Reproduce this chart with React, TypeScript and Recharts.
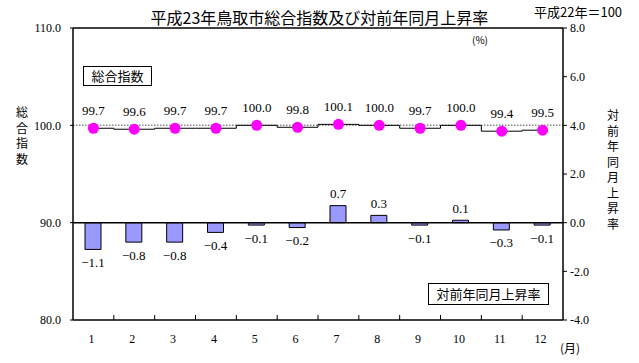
import React from 'react';
import { ComposedChart, Bar, Line, XAxis, YAxis, ReferenceLine, LabelList } from 'recharts';

const months = ['1', '2', '3', '4', '5', '6', '7', '8', '9', '10', '11', '12'];
const indexValues = [99.7, 99.6, 99.7, 99.7, 100.0, 99.8, 100.1, 100.0, 99.7, 100.0, 99.4, 99.5];
const rateValues = [-1.1, -0.8, -0.8, -0.4, -0.1, -0.2, 0.7, 0.3, -0.1, 0.1, -0.3, -0.1];
const leftTicks = [80, 90, 100, 110];
const rightTicks = [-4, -2, 0, 2, 4, 6, 8];

const data = months.map((m, i) => ({ month: m, index: indexValues[i], rate: rateValues[i] }));

const NUM_FONT = '"Liberation Serif", "DejaVu Serif", serif';
const CJK_FONT = '"Noto Sans CJK JP", "Noto Sans", sans-serif';

const XTick = (props: any) => {
  const { x, y, payload, index, visibleTicksCount, width } = props;
  const off = payload && payload.offset ? payload.offset : width / visibleTicksCount / 2;
  return (
    <g>
      <text x={x - 2} y={y + 19} textAnchor="middle" dominantBaseline="central" fontSize={12} fontFamily={NUM_FONT} fill="#000">
        {payload.value}
      </text>
      {index < visibleTicksCount - 1 && (
        <line x1={x + off} x2={x + off} y1={y} y2={y - 5} stroke="#000" strokeWidth={1} />
      )}
    </g>
  );
};

const BarLabel = (props: any) => {
  const vb = props.viewBox || props;
  const x = vb.x ?? props.x;
  const y = vb.y ?? props.y;
  const w = vb.width ?? props.width;
  const h = vb.height ?? props.height;
  const v = Number(props.value);
  const top = Math.min(y, y + h);
  const bottom = Math.max(y, y + h);
  const ly = v < 0 ? bottom + 13 : top - 12;
  return (
    <text x={x + w / 2} y={ly} textAnchor="middle" dominantBaseline="central" fontSize={13} fontFamily={NUM_FONT} fill="#000">
      {v < 0 ? '\u2212' + Math.abs(v).toFixed(1) : v.toFixed(1)}
    </text>
  );
};

const LineLabel = (props: any) => {
  const vb = props.viewBox || props;
  const x = vb.x ?? props.x;
  const y = vb.y ?? props.y;
  return (
    <text x={x} y={y - 18} textAnchor="middle" dominantBaseline="central" fontSize={13} fontFamily={NUM_FONT} fill="#000">
      {Number(props.value).toFixed(1)}
    </text>
  );
};

const Dot = (props: any) => {
  const { cx, cy } = props;
  if (cx == null || cy == null) return null;
  return <circle cx={cx} cy={cy} r={5.5} fill="#ff00ff" stroke="none" />;
};

const abs = (s: React.CSSProperties): React.CSSProperties => ({ position: 'absolute', ...s });

const VText = ({ chars, left, top }: { chars: string[]; left: number; top: number }) => (
  <div style={abs({ left, top, width: 16, fontFamily: CJK_FONT, fontSize: 12, lineHeight: '15.5px', textAlign: 'center', color: '#000' })}>
    {chars.map((c, i) => (
      <div key={i} style={{ height: 15.5 }}>{c}</div>
    ))}
  </div>
);

export default function App() {
  return (
    <div style={{ position: 'absolute', left: 0, top: 0, width: 639, height: 363, background: '#fff', overflow: 'hidden' }}>
      <ComposedChart width={639} height={363} data={data} margin={{ top: 28, right: 0, bottom: 0, left: 0 }}>
        <XAxis
          dataKey="month"
          xAxisId="m"
          height={43}
          tickSize={0}
          tickMargin={0}
          tickLine={false}
          axisLine={{ stroke: '#000', strokeWidth: 1.5 }}
          tick={<XTick />}
          interval={0}
        />
        <YAxis
          yAxisId="idx"
          domain={[80, 110]}
          ticks={leftTicks}
          width={73}
          tickSize={3}
          tickMargin={9}
          tickFormatter={(v: number) => v.toFixed(1)}
          axisLine={{ stroke: '#000', strokeWidth: 1.5 }}
          tickLine={{ stroke: '#000' }}
          tick={{ fill: '#000', fontSize: 12, fontFamily: NUM_FONT }}
          allowDataOverflow
        />
        <YAxis
          yAxisId="rate"
          orientation="right"
          domain={[-4, 8]}
          ticks={rightTicks}
          width={76}
          tickSize={4}
          tickMargin={3}
          tickFormatter={(v: number) => v.toFixed(1)}
          axisLine={{ stroke: '#000', strokeWidth: 1.5 }}
          tickLine={{ stroke: '#000' }}
          tick={{ fill: '#000', fontSize: 12, fontFamily: NUM_FONT }}
          allowDataOverflow
        />
        <ReferenceLine yAxisId="idx" xAxisId="m" y={110} stroke="#000" strokeWidth={1.5} />
        <ReferenceLine yAxisId="rate" xAxisId="m" y={0} stroke="#000" strokeWidth={1.5} />
        <ReferenceLine yAxisId="idx" xAxisId="m" y={100} stroke="#888" strokeWidth={1.5} strokeDasharray="1.5 1.5" />
        <Bar
          yAxisId="rate"
          xAxisId="m"
          dataKey="rate"
          fill="#9999ff"
          stroke="#000"
          strokeWidth={1}
          barSize={16}
          isAnimationActive={false}
        >
          <LabelList dataKey="rate" content={<BarLabel />} />
        </Bar>
        <Line
          yAxisId="idx"
          xAxisId="m"
          dataKey="index"
          type="step"
          stroke="#000"
          strokeWidth={1}
          dot={<Dot />}
          activeDot={false}
          isAnimationActive={false}
        >
          <LabelList dataKey="index" content={<LineLabel />} />
        </Line>
      </ComposedChart>

      <div style={abs({ left: 0, top: 7, width: 639, textAlign: 'center', fontFamily: CJK_FONT, fontSize: 16, lineHeight: '20px', color: '#000' })}>
        平成23年鳥取市総合指数及び対前年同月上昇率
      </div>
      <div style={abs({ left: 534, top: 3, fontFamily: CJK_FONT, fontSize: 13, lineHeight: '18px', color: '#000', whiteSpace: 'nowrap' })}>
        平成22年＝100
      </div>
      <div style={abs({ left: 472, top: 33, fontFamily: CJK_FONT, fontSize: 10, lineHeight: '14px', color: '#000' })}>
        (%)
      </div>
      <div style={abs({ left: 83, top: 66, width: 69, height: 20, border: '1px solid #000', boxSizing: 'border-box', fontFamily: CJK_FONT, fontSize: 13, lineHeight: '18px', textAlign: 'center', color: '#000', background: '#fff' })}>
        総合指数
      </div>
      <div style={abs({ left: 428, top: 283, width: 121, height: 22, border: '1px solid #000', boxSizing: 'border-box', fontFamily: CJK_FONT, fontSize: 13, lineHeight: '20px', textAlign: 'center', color: '#000', background: '#fff' })}>
        対前年同月上昇率
      </div>
      <VText chars={['総', '合', '指', '数']} left={14} top={104} />
      <VText chars={['対', '前', '年', '同', '月', '上', '昇', '率']} left={605} top={107} />
      <div style={abs({ left: 560, top: 340, fontFamily: CJK_FONT, fontSize: 12, lineHeight: '16px', color: '#000', whiteSpace: 'nowrap' })}>
        (月)
      </div>
    </div>
  );
}
